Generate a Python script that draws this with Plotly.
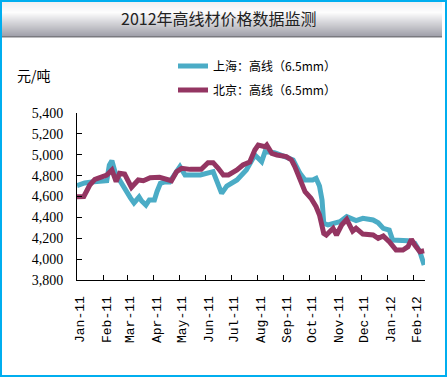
import plotly.graph_objects as go

W, H = 447, 377
L, R, T, B = 77, 22, 113, 97
PW, PH = W - L - R, H - T - B

title_text = "2012年高线材价格数据监测"
unit_text = "元/吨"
name_sh = "上海：高线（6.5mm）"
name_bj = "北京：高线（6.5mm）"

sh_dates = ["2011-01-01", "2011-01-10", "2011-01-21", "2011-02-05", "2011-02-08", "2011-02-11",
            "2011-02-15", "2011-02-21", "2011-02-27", "2011-03-05", "2011-03-09", "2011-03-15",
            "2011-03-18", "2011-03-23", "2011-03-27", "2011-04-02", "2011-04-05", "2011-04-09",
            "2011-04-15", "2011-04-20", "2011-04-28", "2011-05-02", "2011-05-08", "2011-05-26",
            "2011-06-10", "2011-06-16", "2011-06-20", "2011-06-26", "2011-07-08", "2011-07-19",
            "2011-07-29", "2011-08-02", "2011-08-06", "2011-08-10", "2011-08-21", "2011-08-31",
            "2011-09-12", "2011-09-20", "2011-09-26", "2011-10-05", "2011-10-09", "2011-10-13",
            "2011-10-16", "2011-10-18", "2011-10-23", "2011-11-06", "2011-11-14", "2011-11-25",
            "2011-12-03", "2011-12-15", "2011-12-21", "2011-12-27", "2012-01-03", "2012-01-07",
            "2012-01-19", "2012-01-25", "2012-02-02", "2012-02-08", "2012-02-13"]
sh_values = [4705, 4730, 4742, 4751, 4900, 4943,
             4825, 4740, 4646, 4585, 4538, 4595,
             4557, 4518, 4567, 4567, 4646, 4726,
             4742, 4740, 4838, 4886, 4806, 4806,
             4838, 4710, 4630, 4700, 4758, 4854,
             4998, 4966, 4934, 5030, 5020, 4989,
             4950, 4822, 4758, 4758, 4774, 4700,
             4566, 4343, 4327, 4359, 4407, 4369,
             4391, 4375, 4349, 4295, 4279, 4183,
             4176, 4176, 4151, 4071, 3944]

bj_dates = ["2011-01-01", "2011-01-09", "2011-01-13", "2011-01-16", "2011-01-22", "2011-01-30",
            "2011-02-05", "2011-02-11", "2011-02-16", "2011-02-20", "2011-02-26", "2011-03-06",
            "2011-03-14", "2011-03-20", "2011-03-28", "2011-04-08", "2011-04-16", "2011-04-22",
            "2011-04-28", "2011-05-04", "2011-05-14", "2011-05-27", "2011-06-04", "2011-06-10",
            "2011-06-16", "2011-06-22", "2011-06-28", "2011-07-08", "2011-07-15", "2011-07-23",
            "2011-07-29", "2011-08-02", "2011-08-10", "2011-08-12", "2011-08-18", "2011-08-24",
            "2011-09-04", "2011-09-10", "2011-09-14", "2011-09-18", "2011-09-22", "2011-09-26",
            "2011-10-03", "2011-10-09", "2011-10-13", "2011-10-16", "2011-10-18", "2011-10-21",
            "2011-10-29", "2011-11-02", "2011-11-08", "2011-11-14", "2011-11-21", "2011-11-25",
            "2011-12-03", "2011-12-15", "2011-12-21", "2011-12-27", "2012-01-03", "2012-01-11",
            "2012-01-19", "2012-01-25", "2012-01-29", "2012-02-02", "2012-02-08", "2012-02-13"]
bj_values = [4598, 4600, 4662, 4710, 4765, 4784,
             4806, 4854, 4742, 4822, 4815, 4688,
             4758, 4751, 4780, 4784, 4758, 4751,
             4838, 4870, 4860, 4860, 4924, 4924,
             4870, 4806, 4806, 4854, 4902, 4930,
             5045, 5093, 5077, 5093, 5014, 4998,
             4982, 4950, 4886, 4806, 4710, 4646,
             4583, 4502, 4423, 4327, 4247, 4231,
             4295, 4231, 4327, 4381, 4269, 4295,
             4240, 4231, 4199, 4221, 4167, 4087,
             4087, 4119, 4190, 4135, 4071, 4080]

tick_dates = ["2011-01-01", "2011-02-01", "2011-03-01", "2011-04-01", "2011-05-01", "2011-06-01",
              "2011-07-01", "2011-08-01", "2011-09-01", "2011-10-01", "2011-11-01", "2011-12-01",
              "2012-01-01", "2012-02-01"]
tick_labels = ["Jan-11", "Feb-11", "Mar-11", "Apr-11", "May-11", "Jun-11", "Jul-11",
               "Aug-11", "Sep-11", "Oct-11", "Nov-11", "Dec-11", "Jan-12", "Feb-12"]

C_SH = "#4BACC6"
C_BJ = "#943562"


def px_x(X):
    return (X - L) / PW


def px_y(Y):
    return (H - B - Y) / PH


fig = go.Figure()
fig.add_trace(go.Scatter(x=sh_dates, y=sh_values, mode="lines", name=name_sh,
                         line=dict(color=C_SH, width=5), legend="legend"))
fig.add_trace(go.Scatter(x=bj_dates, y=bj_values, mode="lines", name=name_bj,
                         line=dict(color=C_BJ, width=5), legend="legend2"))

shapes = []


def lerp(c1, c2, t):
    return "rgb(%d,%d,%d)" % tuple(round(a + (b - a) * t) for a, b in zip(c1, c2))


top_c, mid_c, bot_c = (240, 240, 242), (253, 253, 253), (158, 158, 168)
for Y in range(2, 36):
    if Y < 12:
        col = lerp(top_c, mid_c, (Y - 2) / 10)
    else:
        col = lerp(mid_c, bot_c, (Y - 12) / 24)
    shapes.append(dict(type="rect", xref="paper", yref="paper",
                       x0=px_x(2), x1=px_x(442), y0=px_y(Y + 1), y1=px_y(Y),
                       fillcolor=col, line=dict(width=0), layer="below"))
shapes.append(dict(type="rect", xref="paper", yref="paper",
                   x0=px_x(2), x1=px_x(442), y0=px_y(37.5), y1=px_y(36),
                   fillcolor="#7a7a80", line=dict(width=0), layer="below"))
shapes.append(dict(type="rect", xref="paper", yref="paper",
                   x0=px_x(1), x1=px_x(W - 1), y0=px_y(H - 1), y1=px_y(1),
                   line=dict(color="#00AEEF", width=2), fillcolor="rgba(0,0,0,0)"))

annotations = [
    dict(text=title_text, xref="paper", yref="paper", x=px_x(219), y=px_y(18),
         xanchor="center", yanchor="middle", showarrow=False,
         font=dict(family="Noto Sans CJK SC", size=16, color="#222222")),
    dict(text=unit_text, xref="paper", yref="paper", x=px_x(15), y=px_y(75),
         xanchor="left", yanchor="middle", showarrow=False,
         font=dict(family="Noto Sans CJK SC", size=14, color="#000000")),
]

legend_common = dict(bgcolor="rgba(0,0,0,0)", borderwidth=0, itemwidth=30,
                     font=dict(family="Noto Sans CJK SC", size=12, color="#000000"),
                     xanchor="left", yanchor="middle", xref="container", yref="container")

fig.update_layout(
    width=W, height=H,
    margin=dict(l=L, r=R, t=T, b=B, autoexpand=False),
    paper_bgcolor="white", plot_bgcolor="white",
    showlegend=True,
    legend=dict(x=173 / W, y=1 - 66 / H, **legend_common),
    legend2=dict(x=173 / W, y=1 - 90 / H, **legend_common),
    shapes=shapes,
    annotations=annotations,
    xaxis=dict(type="date", range=["2011-01-01", "2012-02-14"],
               tickvals=tick_dates, ticktext=tick_labels, tickangle=-90,
               ticks="inside", ticklen=5, tickcolor="black",
               showline=True, linecolor="black", linewidth=1,
               showgrid=False, zeroline=False, automargin=False,
               ticklabelstandoff=10, ticklabelshift=3,
               tickfont=dict(family="Liberation Mono", size=13, color="#000000")),
    yaxis=dict(range=[3800, 5400], dtick=200, tick0=3800, tickformat=",d",
               ticks="inside", ticklen=5, tickcolor="black",
               showline=True, linecolor="black", linewidth=1,
               showgrid=False, zeroline=False, automargin=False,
               ticklabelstandoff=10,
               tickfont=dict(family="Liberation Serif", size=14, color="#000000")),
)

fig.write_html("out.html",
               config={"displayModeBar": False},
               post_script="document.body.style.margin='0';document.body.style.overflow='hidden';")
